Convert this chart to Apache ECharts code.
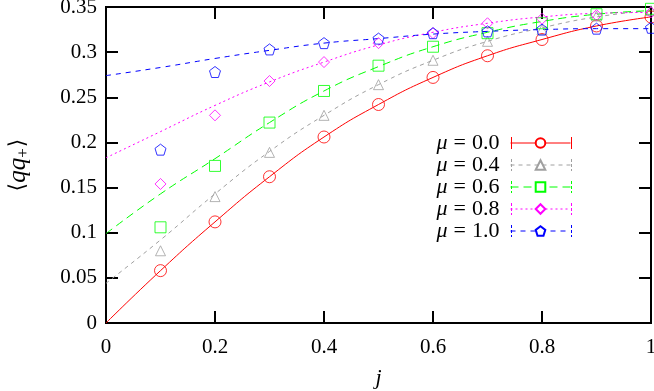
<!DOCTYPE html>
<html><head><meta charset="utf-8">
<script src="https://cdn.jsdelivr.net/npm/echarts@6/dist/echarts.min.js"></script>
<style>html,body{margin:0;padding:0;background:#fff}#c{width:654px;height:391px}</style>
</head><body><div id="c"></div>
<script>
// data points (markers) at j = 0.1 ... 1.0
const jData = [0.1,0.2,0.3,0.4,0.5,0.6,0.7,0.8,0.9,1.0];
const mu00 = [0.058,0.112,0.162,0.206,0.242,0.272,0.296,0.314,0.329,0.339];
const mu04 = [0.080,0.140,0.189,0.230,0.264,0.291,0.312,0.325,0.340,0.346];
const mu06 = [0.106,0.174,0.222,0.257,0.285,0.306,0.321,0.332,0.342,0.348];
const mu08 = [0.154,0.230,0.268,0.289,0.310,0.321,0.332,0.337,0.341,0.344];
const mu10 = [0.192,0.278,0.303,0.310,0.315,0.321,0.323,0.325,0.326,0.327];
// fit curves read at j = 0, 0.1, ..., 1.0
const jFit = [0,0.1,0.2,0.3,0.4,0.5,0.6,0.7,0.8,0.9,1.0];
const fit00 = [0.000,0.058,0.112,0.162,0.206,0.242,0.272,0.296,0.314,0.329,0.339];
const fit04 = [0.044,0.092,0.143,0.190,0.230,0.264,0.291,0.312,0.327,0.339,0.346];
const fit06 = [0.099,0.143,0.182,0.222,0.257,0.284,0.306,0.322,0.334,0.342,0.346];
const fit08 = [0.183,0.212,0.241,0.267,0.289,0.308,0.322,0.332,0.339,0.343,0.344];
const fit10 = [0.274,0.283,0.293,0.302,0.310,0.315,0.320,0.323,0.325,0.326,0.326];
const names = ['μ = 0.0','μ = 0.4','μ = 0.6','μ = 0.8','μ = 1.0'];

const pent = 'path://M0,-1 L0.951,-0.309 L0.588,0.809 L-0.588,0.809 L-0.951,-0.309 Z';
const cfg = [
  {name:names[0], pts:mu00, fit:fit00, color:'#ff0000', type:'solid', sym:'circle', size:12},
  {name:names[1], pts:mu04, fit:fit04, color:'#a0a0a0', type:[4,4], sym:'triangle', size:10},
  {name:names[2], pts:mu06, fit:fit06, color:'#00ff00', type:[8,5], sym:'rect', size:11},
  {name:names[3], pts:mu08, fit:fit08, color:'#ff00ff', type:[2,3], sym:'diamond', size:11},
  {name:names[4], pts:mu10, fit:fit10, color:'#0000ff', type:[5,5], sym:pent, size:11}
];
const FONT = 'Liberation Serif';
const series = [];
cfg.forEach(c => {
  series.push({
    name:c.name, type:'line', smooth:true, showSymbol:false,
    symbol:c.sym, symbolSize:c.size,
    data: jFit.map((j,i)=>[j,c.fit[i]]),
    lineStyle:{color:c.color, width:1, type:c.type},
    itemStyle:{color:'#ffffff', borderColor:c.color, borderWidth:1},
    emphasis:{disabled:true}, z:2
  });
  series.push({
    name:c.name, type:'scatter', symbol:c.sym, symbolSize:c.size,
    data: jData.map((j,i)=>[j,c.pts[i]]),
    itemStyle:{color:'transparent', borderColor:c.color, borderWidth:1},
    emphasis:{disabled:true}, z:3
  });
});
const axisCommon = {
  axisLine:{show:true, onZero:false, lineStyle:{color:'#000', width:2}},
  axisTick:{show:true, inside:true, length:12, lineStyle:{color:'#000', width:2}},
  splitLine:{show:false}
};
const W = 654, LEG_RIGHT = 83, LEG_TOP = 132, ICON_W = 60, ITEM_H = 12, ROW_GAP = 0;
const chart = echarts.init(document.getElementById('c'), null, {renderer:'canvas'});
chart.setOption({
  animation:false,
  backgroundColor:'#fff',
  grid:{left:106, right:3, top:7, bottom:68, containLabel:false, outerBoundsMode:'none',
    show:true, borderColor:'#000', borderWidth:2, backgroundColor:'transparent'},
  legend:{
    orient:'vertical', right:LEG_RIGHT, top:LEG_TOP, align:'right', padding:0,
    itemWidth:ICON_W, itemHeight:ITEM_H, itemGap:ROW_GAP,
    lineStyle:{width:1},
    formatter: n => '{m|μ}{e|=}' + n.split('=')[1].trim(),
    textStyle:{fontFamily:FONT, fontSize:22, color:'#000', lineHeight:20, padding:[0,6,0,0],
      rich:{
        m:{fontFamily:FONT, fontSize:22, fontStyle:'italic', lineHeight:20},
        e:{fontFamily:FONT, fontSize:22, padding:[0,6,0,6], lineHeight:20}
      }},
    data:names
  },
  xAxis:[
    Object.assign({type:'value', min:0, max:1, interval:0.2, position:'bottom',
      name:'j', nameLocation:'middle', nameGap:44,
      nameTextStyle:{fontFamily:FONT, fontSize:22, fontStyle:'italic', color:'#000'},
      axisLabel:{fontFamily:FONT, fontSize:21, color:'#000', margin:14}}, axisCommon),
    Object.assign({type:'value', min:0, max:1, interval:0.2, position:'top',
      axisLabel:{show:false}}, axisCommon)
  ],
  yAxis:[
    Object.assign({type:'value', min:0, max:0.35, interval:0.05, position:'left',
      name:'{a|⟨}{b|qq}{c|+}{a|⟩}', nameLocation:'middle', nameGap:74,
      nameTextStyle:{color:'#000', rich:{
        a:{fontFamily:'DejaVu Serif', fontSize:22, lineHeight:28, verticalAlign:'middle'},
        b:{fontFamily:FONT, fontSize:25, fontStyle:'italic', lineHeight:28, verticalAlign:'middle'},
        c:{fontFamily:FONT, fontSize:17, lineHeight:28, verticalAlign:'bottom', padding:[0,1,0,0]}
      }},
      axisLabel:{fontFamily:FONT, fontSize:21, color:'#000', margin:9}}, axisCommon),
    Object.assign({type:'value', min:0, max:0.35, interval:0.05, position:'right',
      axisLabel:{show:false}}, axisCommon)
  ],
  series:series
});
// error-bar style end caps on the legend samples, placed from the legend's own layout
const caps = [];
let placed = false;
try {
  const lm = chart.getModel().getComponent('legend');
  const view = chart.getViewOfComponentModel(lm);
  const content = view.getContentGroup ? view.getContentGroup() : view._contentGroup;
  const items = content.children();
  if (items.length === cfg.length) {
    items.forEach((it, k) => {
      const rect = it.getBoundingRect();
      const rightG = it.transformCoordToGlobal(rect.x + rect.width, ITEM_H/2);
      const xr = Math.round(rightG[0]), yc = rightG[1];
      [xr - ICON_W, xr].forEach(x => {
        caps.push({type:'line', shape:{x1:x+0.5, y1:yc-6, x2:x+0.5, y2:yc+6},
          style:{stroke:cfg[k].color, lineWidth:1, lineDash: cfg[k].type==='solid'?null:[3,2]}, z:10});
      });
    });
    placed = true;
  }
} catch (e) { placed = false; }
if (placed) chart.setOption({graphic: caps});
</script></body></html>
